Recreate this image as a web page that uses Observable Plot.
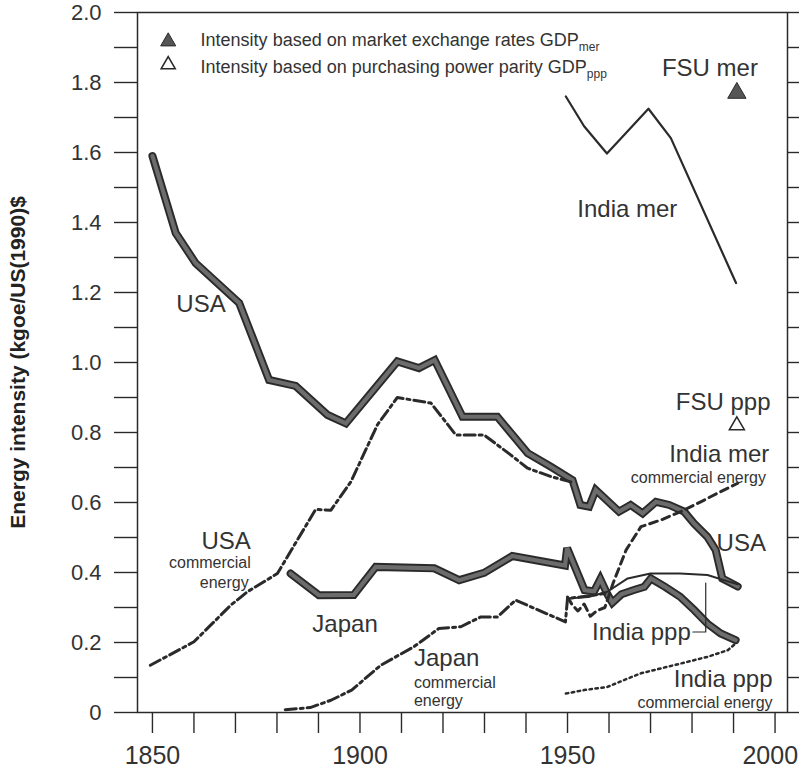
<!DOCTYPE html>
<html><head><meta charset="utf-8">
<script src="https://cdn.jsdelivr.net/npm/d3@7"></script>
<script src="https://cdn.jsdelivr.net/npm/@observablehq/plot@0.6"></script>
<style>
body{margin:0;background:#fff}
#chart svg{display:block;background:#fff}
</style></head><body><div id="chart"></div>
<script>
// ---- data ----
const usaYears  = [1850,1855.6,1860.4,1870.9,1878.1,1884.5,1892.2,1896.6,1909,1914.2,1918,1924.7,1933.1,1940.4,1946,1951.2,1953.1,1955.2,1956.8,1962.4,1965.2,1968.1,1971.3,1974.5,1978.1,1980.5,1983.7,1985.7,1987.3,1991];
const usaValues = [1.59,1.37,1.284,1.17,0.95,0.933,0.85,0.826,1.003,0.984,1.007,0.845,0.845,0.741,0.702,0.664,0.593,0.588,0.636,0.574,0.593,0.569,0.602,0.593,0.574,0.54,0.502,0.464,0.383,0.36];

const usaCommYears  = [1849.5,1860,1868.9,1872.9,1880.1,1889.3,1893,1897.8,1904.2,1909,1917.1,1923.1,1929.9,1936.3,1940.4,1946,1950.8];
const usaCommValues = [0.135,0.202,0.307,0.345,0.397,0.58,0.578,0.659,0.822,0.9,0.884,0.793,0.793,0.736,0.698,0.674,0.659];

const japanYears  = [1883.3,1890.1,1898.5,1903.8,1917.9,1923.9,1929.9,1936.7,1949.4,1949.9,1954.1,1956.4,1957.9,1959.6,1960.8,1963,1966,1968.5,1970.1,1973.5,1977.1,1980.5,1983.7,1986.9,1990.5];
const japanValues = [0.397,0.335,0.336,0.416,0.412,0.378,0.399,0.447,0.42,0.47,0.35,0.346,0.381,0.338,0.314,0.338,0.35,0.359,0.383,0.359,0.331,0.293,0.254,0.226,0.207];

const japanCommYears  = [1882,1888,1893,1898,1905,1913,1919,1924.3,1929.1,1933.1,1937.5,1949.5,1950,1953,1956,1959];
const japanCommValues = [0.008,0.014,0.035,0.064,0.135,0.188,0.24,0.245,0.273,0.273,0.321,0.259,0.326,0.33,0.335,0.34];

const indiaMerYears  = [1949.6,1954,1959.5,1969.5,1974.9,1990.6];
const indiaMerValues = [1.76,1.675,1.597,1.725,1.641,1.227];

const indiaPppYears  = [1950,1955,1959.6,1964.5,1970,1977.1,1983.7,1991];
const indiaPppValues = [0.326,0.33,0.345,0.383,0.397,0.397,0.393,0.366];

const indiaMerCommYears  = [1950,1951,1952.5,1954,1955.5,1957,1959,1961,1964.1,1967.7,1972.5,1977.3,1982.1,1986.9,1991];
const indiaMerCommValues = [0.33,0.31,0.29,0.31,0.275,0.29,0.3,0.37,0.464,0.531,0.55,0.574,0.602,0.631,0.655];

const indiaPppCommYears  = [1949.6,1954,1959.6,1964.5,1967.7,1972.5,1977.3,1983.7,1988.6,1990.5];
const indiaPppCommValues = [0.054,0.064,0.073,0.097,0.112,0.126,0.14,0.159,0.178,0.197];

const fsuYear = 1990.8;
const fsuMerValue = 1.77;
const fsuPppValue = 0.82;

const xTicks = [1850,1860,1870,1880,1890,1900,1910,1920,1930,1940,1950,1960,1970,1980,1990,2000];
const xLabelYears = [1850,1900,1950];
const xLastLabel = 2000;
const yTicks = [0,0.1,0.2,0.3,0.4,0.5,0.6,0.7,0.8,0.9,1.0,1.1,1.2,1.3,1.4,1.5,1.6,1.7,1.8,1.9,2.0];
const yTickLabels = ["0","","0.2","","0.4","","0.6","","0.8","","1.0","","1.2","","1.4","","1.6","","1.8","","2.0"];

const yTitle = "Energy intensity (kgoe/US(1990)$";
const legendTexts = ["Intensity based on market exchange rates GDP", "Intensity based on purchasing power parity GDP"];
const legendSubs = ["mer", "ppp"];

// annotation labels: text, anchor point (year, value), size class, anchor
const labels = [
  {text:"USA", x:1861.7, y:1.165, size:"big", anchor:"middle"},
  {text:"India mer", x:1964.4, y:1.439, size:"big", anchor:"middle"},
  {text:"FSU mer", x:1984.3, y:1.84, size:"big", anchor:"middle"},
  {text:"FSU ppp", x:1998.9, y:0.885, size:"big", anchor:"end"},
  {text:"India mer", x:1998.6, y:0.739, size:"big", anchor:"end"},
  {text:"commercial energy", x:1997.8, y:0.67, size:"small", anchor:"end"},
  {text:"USA", x:1997.8, y:0.483, size:"big", anchor:"end"},
  {text:"India ppp", x:1967.8, y:0.23, size:"big", anchor:"middle"},
  {text:"India ppp", x:1999.4, y:0.095, size:"big", anchor:"end"},
  {text:"commercial energy", x:1999.4, y:0.027, size:"small", anchor:"end"},
  {text:"Japan", x:1896.4, y:0.252, size:"big", anchor:"middle"},
  {text:"Japan", x:1913, y:0.154, size:"big", anchor:"start"},
  {text:"commercial", x:1913, y:0.084, size:"small", anchor:"start"},
  {text:"energy", x:1913, y:0.033, size:"small", anchor:"start"},
  {text:"USA", x:1873.7, y:0.49, size:"big", anchor:"end"},
  {text:"commercial", x:1873.7, y:0.427, size:"small", anchor:"end"},
  {text:"energy", x:1873.2, y:0.37, size:"small", anchor:"end"}
];
const leaderYears = [1980.2, 1983.3, 1983.3];
const leaderValues = [0.23, 0.23, 0.37];
const legendYear = 1853.8, legendTextYear = 1861.6;
const legendValues = [1.917, 1.851];
const legendTextValues = [1.92, 1.845];

// ---- build ----
const rows = (xs, ys) => xs.map((x, i) => ({x, y: ys[i]}));
const usa = rows(usaYears, usaValues);
const usaComm = rows(usaCommYears, usaCommValues);
const japan = rows(japanYears, japanValues);
const japanComm = rows(japanCommYears, japanCommValues);
const indiaMer = rows(indiaMerYears, indiaMerValues);
const indiaPpp = rows(indiaPppYears, indiaPppValues);
const indiaMerComm = rows(indiaMerCommYears, indiaMerCommValues);
const indiaPppComm = rows(indiaPppCommYears, indiaPppCommValues);
const leader = rows(leaderYears, leaderValues);

const ink = "#2a2a2a";
const thickOuter = {x:"x", y:"y", stroke:ink, strokeWidth:8, strokeLinejoin:"miter", strokeMiterlimit:3};
const thickInner = {x:"x", y:"y", stroke:"#6c6c6c", strokeWidth:4.2, strokeLinejoin:"miter", strokeMiterlimit:3};

const textMarks = [];
for (const size of ["big","small"]) for (const anchor of ["start","middle","end"]) {
  const d = labels.filter(l => l.size === size && l.anchor === anchor);
  if (d.length) textMarks.push(Plot.text(d, {x:"x", y:"y", text:"text", textAnchor:anchor,
    fontSize: size === "big" ? 24 : 16, fill:"#333"}));
}
const xLabelStyle = {frameAnchor: "bottom", dy: 34, lineAnchor: "top", fontSize: 25, fill: "#333",
  fontFamily: "'Liberation Sans Narrow', 'Liberation Sans', Arial, sans-serif", text: d => String(d)};

const chart = Plot.plot({
  width: 799, height: 772,
  marginLeft: 137, marginRight: 12, marginTop: 12, marginBottom: 60,
  style: {fontFamily: "'Liberation Sans', Arial, Helvetica, sans-serif", background: "#fff"},
  x: {domain: [1846.4, 2003], axis: null},
  y: {domain: [0, 2], axis: null},
  marks: [
    Plot.axisY({ticks: yTicks, tickSize: 23, tickPadding: 13, stroke: ink, strokeWidth: 1.4,
      tickFormat: (d, i) => yTickLabels[yTicks.findIndex(t => Math.abs(t - d) < 1e-9)],
      fontSize: 22, fill: "#333", label: null}),
    Plot.axisY({ticks: yTicks, anchor: "right", tickSize: 13, stroke: ink, strokeWidth: 1.4, tickFormat: () => "", label: null}),
    Plot.axisX({ticks: xTicks, tickSize: 21, stroke: ink, strokeWidth: 1.4, tickFormat: () => "", label: null}),
    Plot.text(xLabelYears, {x: d => d, textAnchor: "middle", ...xLabelStyle}),
    Plot.text([xLastLabel], {x: d => d, textAnchor: "end", dx: 23, ...xLabelStyle}),
    Plot.frame({stroke: ink, strokeWidth: 1.5}),
    Plot.text([yTitle], {frameAnchor: "left", dx: -119, rotate: -90, text: d => d, textAnchor: "middle",
      fontSize: 21, fontWeight: "bold", fill: "#222"}),
    // thick series
    Plot.line(usa, thickOuter), Plot.line(usa, thickInner),
    Plot.line(japan, thickOuter), Plot.line(japan, thickInner),
    // commercial energy series
    Plot.line(usaComm, {x:"x", y:"y", stroke:ink, strokeWidth:3, strokeDasharray:"11,4,3,4"}),
    Plot.line(japanComm, {x:"x", y:"y", stroke:ink, strokeWidth:3, strokeDasharray:"11,4,3,4"}),
    Plot.line(indiaMerComm, {x:"x", y:"y", stroke:ink, strokeWidth:3, strokeDasharray:"8,5"}),
    Plot.line(indiaPppComm, {x:"x", y:"y", stroke:ink, strokeWidth:2.5, strokeDasharray:"2.5,3.5"}),
    // thin series
    Plot.line(indiaMer, {x:"x", y:"y", stroke:ink, strokeWidth:2.2}),
    Plot.line(indiaPpp, {x:"x", y:"y", stroke:ink, strokeWidth:2}),
    Plot.line(leader, {x:"x", y:"y", stroke:ink, strokeWidth:1.2}),
    // FSU points
    Plot.dot([fsuMerValue], {x: () => fsuYear, y: d => d, symbol:"triangle", r:6.8, fill:"#555", stroke:ink, strokeWidth:1}),
    Plot.dot([fsuPppValue], {x: () => fsuYear, y: d => d, symbol:"triangle", r:5.6, fill:"#fff", stroke:ink, strokeWidth:1.5}),
    // legend
    Plot.dot([legendValues[0]], {x: () => legendYear, y: d => d, symbol:"triangle", r:5.6, fill:"#555", stroke:ink, strokeWidth:1}),
    Plot.dot([legendValues[1]], {x: () => legendYear, y: d => d, symbol:"triangle", r:5.2, fill:"#fff", stroke:ink, strokeWidth:1.6}),
    Plot.text(legendTexts, {x: () => legendTextYear, y: (d, i) => legendTextValues[i], text: d => d,
      textAnchor:"start", fontSize: 18, fill:"#333"}),
    ...textMarks
  ]
});
document.getElementById("chart").appendChild(chart);

// subscripts for legend GDP
d3.select(chart).selectAll("text").each(function() {
  const k = legendTexts.indexOf(this.textContent);
  if (k >= 0) {
    d3.select(this).append("tspan").attr("dy", 5).attr("font-size", 12).text(legendSubs[k]);
  }
});
</script>
</body></html>
